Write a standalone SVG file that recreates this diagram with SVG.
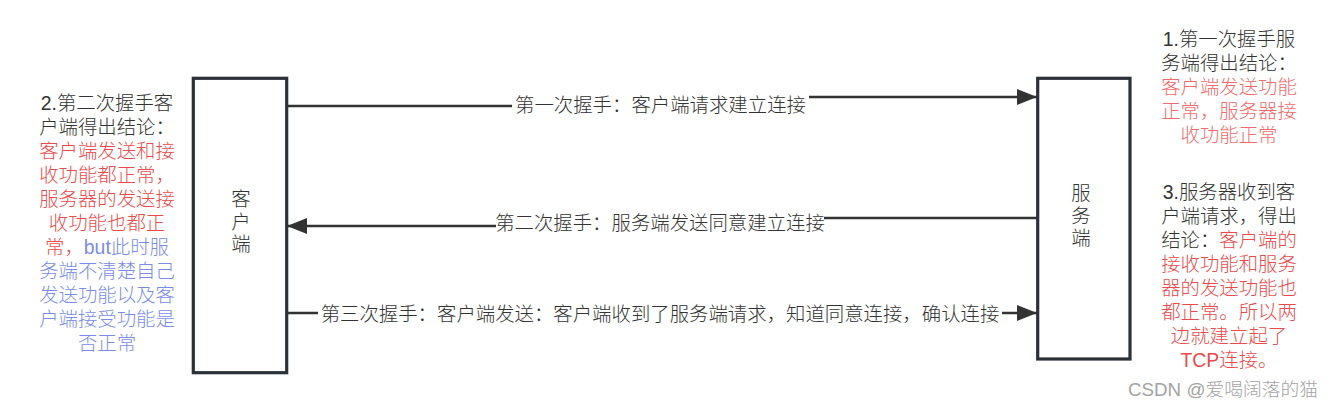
<svg xmlns="http://www.w3.org/2000/svg" width="1335" height="409" viewBox="0 0 1335 409">
<style>
text{font-family:"Liberation Sans","Noto Sans CJK SC",sans-serif;font-weight:300;}
.lat{font-weight:400;}
.box{fill:#ffffff;stroke:#2b3137;stroke-width:3.2;}
.bt{font-size:19.4px;fill:#333333;text-anchor:middle;}
.conn{fill:none;stroke:#333333;stroke-width:2.6;}
.lbl{font-size:19.4px;fill:#333333;text-anchor:middle;}
.note{font-size:19.4px;text-anchor:middle;fill:#333333;}
.red{fill:#ea4a4a;}
.red2{fill:#f06a6a;}
.blue{fill:#7a8ce8;}
.wm{font-size:18px;fill:#a3a3a3;}
</style>
<defs>
<marker id="arr" markerUnits="userSpaceOnUse" markerWidth="20" markerHeight="16" refX="20" refY="8" orient="auto">
<path d="M0,0 L20,8 L0,16 z" fill="#333333"/>
</marker>
</defs>

<g id="connectors">
<path class="conn" d="M287,106 H660 V97 H1037" marker-end="url(#arr)"/>
<path class="conn" d="M1037,218 H660 V226 H287" marker-end="url(#arr)"/>
<path class="conn" d="M287,313 H1037" marker-end="url(#arr)"/>
<rect x="512" y="92" width="297" height="25" fill="#ffffff"/>
<text class="lbl" x="660.5" y="112">第一次握手：客户端请求建立连接</text>
<rect x="496" y="208" width="328" height="25" fill="#ffffff"/>
<text class="lbl" x="660" y="230">第二次握手：服务端发送同意建立连接</text>
<rect x="318" y="301" width="684" height="25" fill="#ffffff"/>
<text class="lbl" x="660" y="321">第三次握手：客户端发送：客户端收到了服务端请求，知道同意连接，确认连接</text>
</g>

<g id="client">
<rect class="box" x="193.3" y="78.3" width="93.4" height="294.4"/>
<text class="bt" x="241" y="206">客</text>
<text class="bt" x="241" y="228.5">户</text>
<text class="bt" x="241" y="251">端</text>
</g>

<g id="server">
<rect class="box" x="1037.7" y="78.3" width="92.3" height="280.7"/>
<text class="bt" x="1081" y="200">服</text>
<text class="bt" x="1081" y="222.5">务</text>
<text class="bt" x="1081" y="245">端</text>
</g>

<g id="note-left">
<text class="note" x="107" y="110"><tspan class="lat">2.</tspan>第二次握手客</text>
<text class="note" x="107" y="134">户端得出结论：</text>
<text class="note red" x="107" y="158">客户端发送和接</text>
<text class="note red" x="107" y="182">收功能都正常，</text>
<text class="note red" x="107" y="206">服务器的发送接</text>
<text class="note red" x="107" y="230">收功能也都正</text>
<text class="note" x="107" y="254"><tspan class="red">常，</tspan><tspan class="blue lat">but</tspan><tspan class="blue">此时服</tspan></text>
<text class="note blue" x="107" y="278">务端不清楚自己</text>
<text class="note blue" x="107" y="302">发送功能以及客</text>
<text class="note blue" x="107" y="326">户端接受功能是</text>
<text class="note blue" x="107" y="350">否正常</text>
</g>

<g id="note-right-1">
<text class="note" x="1229" y="46"><tspan class="lat">1.</tspan>第一次握手服</text>
<text class="note" x="1229" y="70">务端得出结论：</text>
<text class="note red2" x="1229" y="94">客户端发送功能</text>
<text class="note red2" x="1229" y="118">正常，服务器接</text>
<text class="note red2" x="1229" y="142">收功能正常</text>
</g>

<g id="note-right-3">
<text class="note" x="1229" y="199"><tspan class="lat">3.</tspan>服务器收到客</text>
<text class="note" x="1229" y="223">户端请求，得出</text>
<text class="note" x="1229" y="247">结论：<tspan class="red">客户端的</tspan></text>
<text class="note red" x="1229" y="271">接收功能和服务</text>
<text class="note red" x="1229" y="295">器的发送功能也</text>
<text class="note red" x="1229" y="319">都正常。所以两</text>
<text class="note red" x="1229" y="343">边就建立起了</text>
<text class="note red" x="1229" y="367"><tspan class="lat">TCP</tspan>连接。</text>
</g>

<text class="wm" x="1128" y="396" textLength="190" lengthAdjust="spacingAndGlyphs"><tspan class="lat">CSDN @</tspan>爱喝阔落的猫</text>
</svg>
